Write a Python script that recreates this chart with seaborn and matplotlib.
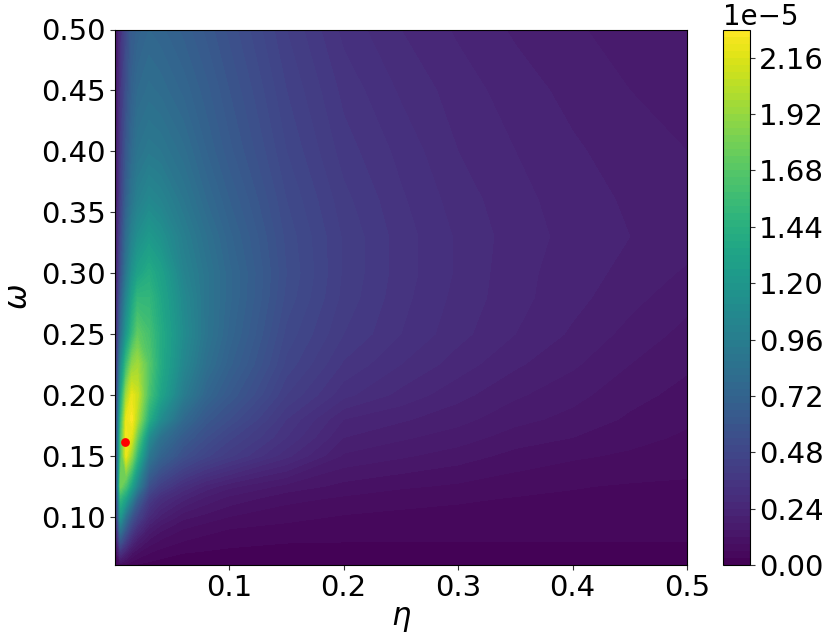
"""Contour map of the objective over eta and omega."""

import numpy as np
import matplotlib
matplotlib.use("Agg")
import matplotlib.pyplot as plt
import seaborn as sns

eta = [0.001, 0.005, 0.01, 0.015, 0.02, 0.03, 0.04, 0.06, 0.08, 0.1,
       0.15, 0.2, 0.25, 0.3, 0.35, 0.4, 0.45, 0.5]
omega = [0.0603, 0.07, 0.08, 0.09, 0.10, 0.115, 0.125, 0.15, 0.165, 0.18, 0.20, 0.225,
         0.25, 0.28, 0.30, 0.33, 0.36, 0.40, 0.45, 0.50]

# values in units of 1e-5, one row per omega
z_060 = [.02, .07, .05, .035, .025, .018, .014, .011, .009, .008, .006, .006, .005, .005, .005, .005, .005, .005]
z_070 = [.05, .30, .20, .12, .09, .06, .045, .03, .025, .022, .02, .018, .016, .015, .015, .014, .014, .013]
z_080 = [.08, .60, .40, .26, .18, .11, .085, .06, .05, .04, .032, .031, .03, .03, .03, .03, .03, .03]
z_090 = [.12, .90, .62, .42, .30, .18, .13, .09, .07, .06, .05, .045, .042, .04, .038, .037, .036, .035]
z_100 = [.18, 1.20, .85, .60, .45, .27, .20, .13, .11, .09, .07, .057, .052, .049, .047, .046, .045, .045]
z_115 = [.22, 1.50, 1.30, 1.00, .70, .40, .30, .22, .17, .14, .10, .085, .072, .065, .058, .055, .052, .052]
z_125 = [.25, 1.80, 1.60, 1.30, 1.00, .55, .42, .30, .23, .19, .14, .11, .095, .085, .072, .062, .057, .055]
z_150 = [.28, 1.60, 2.20, 1.90, 1.50, .90, .72, .55, .46, .40, .28, .175, .155, .135, .11, .095, .085, .075]
z_165 = [.28, 1.60, 2.25, 2.15, 1.75, 1.10, .85, .65, .54, .46, .33, .21, .185, .165, .135, .12, .10, .085]
z_180 = [.28, 1.50, 2.20, 2.27, 2.00, 1.42, 1.10, .78, .62, .54, .36, .24, .215, .19, .16, .14, .115, .095]
z_200 = [.25, 1.30, 1.95, 2.20, 2.10, 1.62, 1.33, .95, .74, .63, .42, .31, .26, .22, .185, .16, .13, .11]
z_225 = [.22, 1.05, 1.55, 1.88, 1.96, 1.68, 1.40, 1.05, .83, .70, .47, .355, .30, .255, .215, .185, .15, .125]
z_250 = [.20, .80, 1.20, 1.50, 1.72, 1.60, 1.40, 1.10, .88, .74, .50, .39, .33, .28, .24, .205, .17, .14]
z_280 = [.17, .65, 1.03, 1.30, 1.50, 1.50, 1.35, 1.07, .88, .76, .53, .41, .34, .29, .25, .22, .19, .16]
z_300 = [.15, .55, .90, 1.15, 1.30, 1.40, 1.30, 1.02, .88, .76, .54, .415, .345, .295, .25, .225, .20, .175]
z_330 = [.14, .48, .80, 1.00, 1.12, 1.22, 1.15, .97, .84, .73, .53, .415, .345, .295, .255, .23, .21, .195]
z_360 = [.13, .42, .70, .88, .98, 1.06, 1.02, .90, .78, .69, .51, .40, .335, .285, .25, .225, .205, .19]
z_400 = [.12, .38, .62, .78, .87, .92, .90, .82, .72, .64, .48, .375, .32, .27, .24, .215, .195, .18]
z_450 = [.11, .34, .55, .70, .78, .82, .80, .74, .67, .60, .45, .35, .295, .255, .225, .20, .18, .165]
z_500 = [.10, .30, .50, .65, .70, .75, .73, .68, .62, .56, .42, .32, .27, .235, .205, .185, .165, .15]

best_eta = [0.0087]
best_omega = [0.1615]

z_rows = [z_060, z_070, z_080, z_090, z_100, z_115, z_125, z_150, z_165, z_180, z_200, z_225,
          z_250, z_280, z_300, z_330, z_360, z_400, z_450, z_500]

sns.set_theme(style="white")
plt.rcParams["font.family"] = "DejaVu Sans"
plt.rcParams["mathtext.fontset"] = "dejavusans"
plt.rcParams["text.color"] = "black"
plt.rcParams["axes.labelcolor"] = "black"
plt.rcParams["xtick.labelcolor"] = "black"
plt.rcParams["ytick.labelcolor"] = "black"

z = np.array(z_rows) * 1e-5
levels = np.arange(0, 77) * 0.03e-5
ticks = np.arange(0, 10) * 0.24e-5

fig = plt.figure(figsize=(8.3, 6.41), dpi=100)
ax = fig.add_axes([115 / 830, 1 - 565 / 641, 572 / 830, 535.5 / 641])
cax = fig.add_axes([723 / 830, 1 - 565 / 641, 27 / 830, 535.5 / 641])

cmap = sns.color_palette("viridis", as_cmap=True)
cf = ax.contourf(eta, omega, z, levels=levels, cmap=cmap)
sns.scatterplot(x=best_eta, y=best_omega, color="red", s=40, linewidth=0, ax=ax, zorder=5)

ax.set_xlim(0.0003, 0.5)
ax.set_ylim(0.0603, 0.5)
ax.set_xticks([0.1, 0.2, 0.3, 0.4, 0.5])
ax.set_yticks([0.10, 0.15, 0.20, 0.25, 0.30, 0.35, 0.40, 0.45, 0.50])
ax.set_yticklabels(["0.10", "0.15", "0.20", "0.25", "0.30", "0.35", "0.40", "0.45", "0.50"])
ax.tick_params(labelsize=21, length=3.5, width=0.8, pad=3, bottom=True, left=True, color="#333333")
ax.set_xlabel(r"$\eta$", fontsize=22, labelpad=2)
ax.set_ylabel(r"$\omega$", fontsize=22, labelpad=6)
for spine in ax.spines.values():
    spine.set_edgecolor("black")
    spine.set_linewidth(0.8)

cbar = fig.colorbar(cf, cax=cax, ticks=ticks)
cbar.ax.tick_params(labelsize=21, length=3.5, width=0.8, pad=3, right=True, color="#333333")
offset = cbar.ax.yaxis.get_offset_text()
offset.set_fontsize(20)
offset.set_horizontalalignment("left")
offset.set_x(0)
cbar.outline.set_edgecolor("black")
cbar.outline.set_linewidth(0.8)

fig.savefig("out.png", dpi=100)
plt.close(fig)
